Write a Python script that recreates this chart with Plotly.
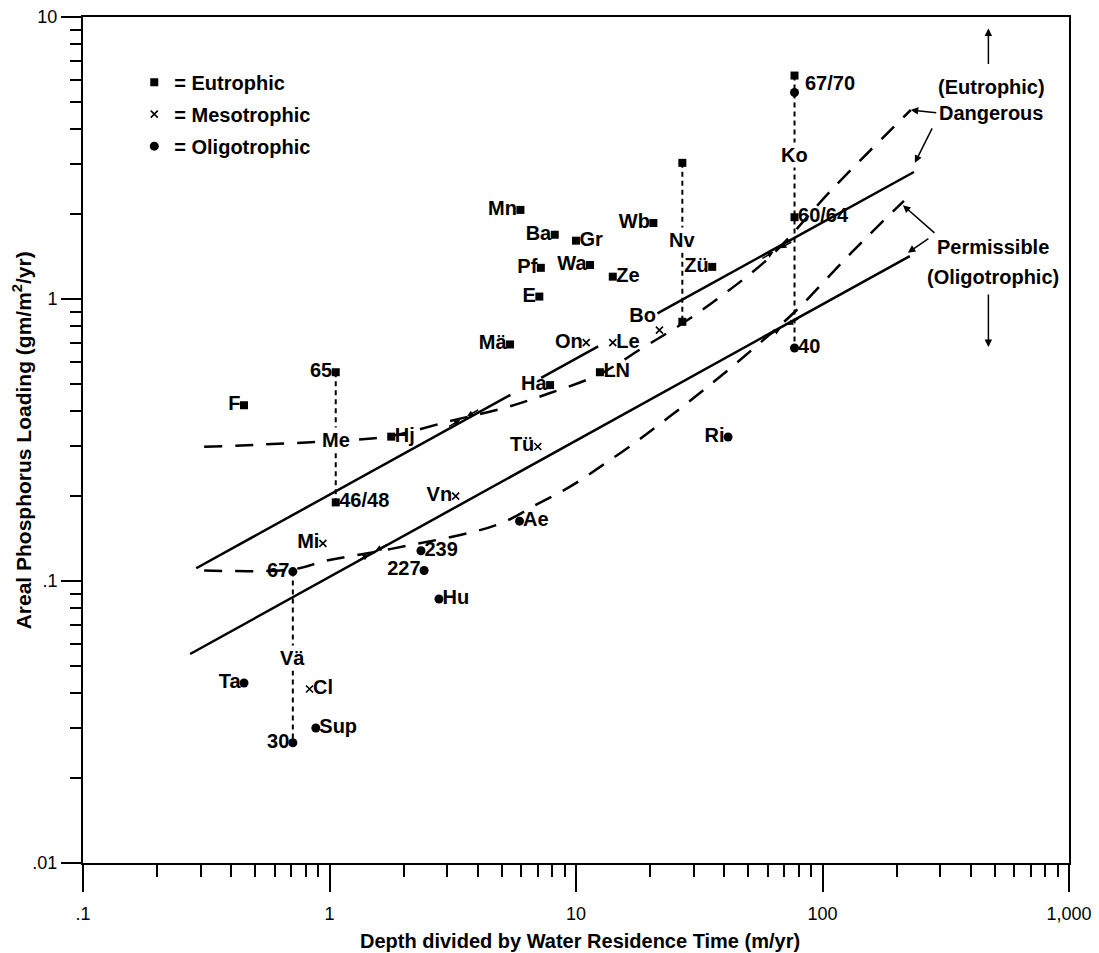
import numpy as np
import plotly.graph_objects as go

# ---------------- data ----------------
# Eutrophic lakes (squares)
eu_label = ["F", "65", "46/48", "Hj", "Mä", "Ha", "Mn", "Ba", "Gr", "Pf",
            "Wa", "Ze", "E", "Wb", "", "", "Zü", "LN", "", "60/64"]
eu_x = [0.45, 1.06, 1.06, 1.78, 5.4, 7.85, 5.95, 8.2, 10.0, 7.2,
        11.4, 14.1, 7.1, 20.6, 27.0, 27.0, 35.7, 12.5, 77.0, 77.0]
eu_y = [0.42, 0.55, 0.19, 0.325, 0.69, 0.495, 2.07, 1.69, 1.61, 1.29,
        1.32, 1.20, 1.02, 1.86, 3.04, 0.83, 1.30, 0.55, 6.2, 1.95]
eu_pos = ["middle left", "middle left", "middle right", "middle right", "middle left",
          "middle left", "middle left", "middle left", "middle right", "middle left",
          "middle left", "middle right", "middle left", "middle left", "middle left",
          "middle left", "middle left", "middle right", "middle right", "middle right"]

# Mesotrophic lakes (crosses)
meso_label = ["Mi", "Vn", "Tü", "On", "Le", "Bo", "Cl"]
meso_x = [0.94, 3.25, 7.0, 11.0, 14.1, 21.8, 0.83]
meso_y = [0.136, 0.20, 0.30, 0.70, 0.70, 0.776, 0.0414]
meso_pos = ["middle left", "middle left", "middle left", "middle left",
            "middle right", "top left", "middle right"]

# Oligotrophic lakes (dots)
oli_label = ["67", "30", "Ta", "Sup", "239", "227", "Hu", "Ae", "Ri", "40", ""]
oli_x = [0.71, 0.71, 0.45, 0.88, 2.35, 2.42, 2.78, 5.9, 41.4, 77.0, 77.0]
oli_y = [0.108, 0.0267, 0.0435, 0.0301, 0.128, 0.109, 0.0863, 0.163, 0.324, 0.67, 5.4]
oli_pos = ["middle left", "middle left", "middle left", "middle right", "middle right",
           "middle left", "middle right", "middle right", "middle left", "middle right",
           "middle right"]

# Lakes followed over several years (vertical dashed connectors)
hist_name = ["Me", "Vä", "Nv", "Ko"]
hist_x = [1.06, 0.71, 27.0, 77.0]
hist_top = [0.55, 0.108, 3.04, 6.2]
hist_bot = [0.19, 0.0267, 0.83, 0.67]
hist_label_y = [0.316, 0.0533, 1.62, 3.24]
ko_year_label = "67/70"
ko_year_label_y = 5.85

# Limit lines
dang_solid_x = [0.288, 5.42, None, 7.22, 12.3, None, 21.4, 235]
dang_solid_y = [0.111, 0.457, None, 0.525, 0.679, None, 0.889, 2.82]
perm_solid_x = [0.272, 226]
perm_solid_y = [0.0551, 1.42]
dang_dash_x = [0.31, 1.05, 1.78, 3.19, 5.08, 7.85, 12.5, 18.6, 26.8, 39.2, 62.3, 109, 228]
dang_dash_y = [0.299, 0.314, 0.327, 0.372, 0.41, 0.464, 0.542, 0.67, 0.815, 1.03, 1.43, 2.44, 4.68]
perm_dash_x = [0.31, 0.71, 0.97, 1.78, 4.76, 7.09, 9.46, 12.7, 17.5, 23.9, 33.4, 51.7, 78.6, 131, 214]
perm_dash_y = [0.109, 0.110, 0.118, 0.130, 0.158, 0.189, 0.216, 0.256, 0.311, 0.382, 0.48, 0.66, 0.914, 1.46, 2.23]

# points where the curved and straight limits cross (marked with small arrows)
cross_x = [3.5, 1.49, 65.3, 69.6]
cross_y = [0.378, 0.126, 1.49, 0.796]

# Right-hand notes
note_text = ["(Eutrophic)", "Dangerous", "Permissible", "(Oligotrophic)"]
note_x = [484, 484, 490, 490]
note_y = [5.65, 4.57, 1.53, 1.20]

x_tickvals = [0.1, 1, 10, 100, 1000]
x_ticktext = [".1", "1", "10", "100", "1,000"]
y_tickvals = [0.01, 0.1, 1, 10]
y_ticktext = [".01", ".1", "1", "10"]
x_minor = [m * 10.0 ** k for k in range(-1, 3) for m in range(2, 10)]
y_minor = [m * 10.0 ** k for k in range(-2, 1) for m in range(2, 10)]

FONT = "Liberation Sans, Arial, sans-serif"
BLACK = "black"
LBL = dict(family=FONT, size=20, color=BLACK, weight="bold")

fig = go.Figure()

# limit lines
fig.add_trace(go.Scatter(x=dang_solid_x, y=dang_solid_y, mode="lines", showlegend=False,
                         line=dict(color=BLACK, width=2.5), hoverinfo="skip"))
fig.add_trace(go.Scatter(x=perm_solid_x, y=perm_solid_y, mode="lines", showlegend=False,
                         line=dict(color=BLACK, width=2.5), hoverinfo="skip"))
fig.add_trace(go.Scatter(x=dang_dash_x, y=dang_dash_y, mode="lines", showlegend=False,
                         line=dict(color=BLACK, width=2.5, dash="18px,13px", shape="spline"),
                         hoverinfo="skip"))
fig.add_trace(go.Scatter(x=perm_dash_x, y=perm_dash_y, mode="lines", showlegend=False,
                         line=dict(color=BLACK, width=2.5, dash="18px,13px", shape="spline"),
                         hoverinfo="skip"))

# vertical connectors
for hx, ht, hb in zip(hist_x, hist_top, hist_bot):
    fig.add_trace(go.Scatter(x=[hx, hx], y=[ht, hb], mode="lines", showlegend=False,
                             line=dict(color=BLACK, width=2, dash="5px,4px"), hoverinfo="skip"))

# markers
fig.add_trace(go.Scatter(x=eu_x, y=eu_y, mode="markers", name="= Eutrophic",
                         legendgroup="eu",
                         marker=dict(symbol="square", size=8, color=BLACK)))
fig.add_trace(go.Scatter(x=meso_x, y=meso_y, mode="markers", name="= Mesotrophic",
                         legendgroup="meso",
                         marker=dict(symbol="x-thin", size=7, color=BLACK,
                                     line=dict(width=1.6, color=BLACK))))
fig.add_trace(go.Scatter(x=oli_x, y=oli_y, mode="markers", name="= Oligotrophic",
                         legendgroup="oli",
                         marker=dict(symbol="circle", size=9, color=BLACK)))

# point labels
fig.add_trace(go.Scatter(
    x=eu_x + meso_x + oli_x, y=eu_y + meso_y + oli_y,
    text=eu_label + meso_label + oli_label,
    textposition=eu_pos + meso_pos + oli_pos,
    mode="markers+text", showlegend=False, hoverinfo="skip",
    marker=dict(size=4, color="rgba(0,0,0,0)"),
    textfont=LBL))

annotations = []
# connector labels (interrupt the lines)
for name, hx, hy in zip(hist_name, hist_x, hist_label_y):
    annotations.append(dict(x=np.log10(hx), y=np.log10(hy), xref="x", yref="y",
                            text=name, showarrow=False, bgcolor="white", borderpad=1,
                            font=LBL))
annotations.append(dict(x=np.log10(hist_x[3]), y=np.log10(ko_year_label_y), xref="x", yref="y",
                        text=ko_year_label, showarrow=False, xanchor="left", xshift=8,
                        font=LBL))

# right-hand notes
for t, nx, ny in zip(note_text, note_x, note_y):
    annotations.append(dict(x=np.log10(nx), y=np.log10(ny), xref="x", yref="y", text=t,
                            showarrow=False, font=LBL))


def arrow(hx, hy, ax, ay, size=1.0, standoff=0):
    return dict(x=np.log10(hx), y=np.log10(hy), xref="x", yref="y", text="",
                showarrow=True, ax=ax, ay=ay, axref="pixel", ayref="pixel",
                arrowhead=2, arrowsize=size, arrowwidth=1.5, arrowcolor=BLACK,
                standoff=standoff)


annotations += [
    arrow(471, 9.1, 0, 37),
    arrow(471, 0.676, 0, -54),
    arrow(dang_dash_x[-1], dang_dash_y[-1], 27, 3),
    arrow(237, 3.04, 18, -36),
    arrow(212, 2.15, 33, 29),
    arrow(222, 1.46, 22, -15),
]
for cx, cy in zip(cross_x, cross_y):
    annotations.append(arrow(cx, cy, -16, 9, size=0.8, standoff=4))
    annotations.append(arrow(cx, cy, 16, -9, size=0.8, standoff=4))

# axis titles
annotations.append(dict(x=0.504, y=-0.092, xref="paper", yref="paper", showarrow=False,
                        xanchor="center", yanchor="middle",
                        text="Depth divided by Water Residence Time (m/yr)",
                        font=dict(family=FONT, size=20, color=BLACK, weight="bold")))
annotations.append(dict(x=-0.0615, y=0.5, xref="paper", yref="paper", showarrow=False,
                        xanchor="center", yanchor="middle",
                        textangle=-90, text="Areal Phosphorus Loading (gm/m<sup>2</sup>/yr)",
                        font=dict(family=FONT, size=21, color=BLACK, weight="bold")))

axis_common = dict(type="log", showgrid=False, zeroline=False, showline=True,
                   linecolor=BLACK, linewidth=2, mirror=True, ticks="outside",
                   tickcolor=BLACK, tickwidth=1.5, automargin=False,
                   ticklabeloverflow="allow",
                   tickfont=dict(family=FONT, size=18, color=BLACK))

# the page adds an 8px body margin, so the figure is drawn 8px smaller
fig.update_layout(
    width=1091, height=945,
    margin=dict(l=75, r=30, t=9, b=90),
    paper_bgcolor="white", plot_bgcolor="white",
    xaxis=dict(range=[-1, 3], tickmode="array", tickvals=x_tickvals, ticktext=x_ticktext,
               ticklen=27, ticklabelstandoff=6,
               minor=dict(tickmode="array", tickvals=x_minor, ticks="outside", ticklen=12,
                          tickwidth=1.5, tickcolor=BLACK, showgrid=False),
               **axis_common),
    yaxis=dict(range=[-2, 1], tickmode="array", tickvals=y_tickvals, ticktext=y_ticktext,
               ticklen=20,
               minor=dict(tickmode="array", tickvals=y_minor, ticks="outside", ticklen=11,
                          tickwidth=1.5, tickcolor=BLACK, showgrid=False),
               **axis_common),
    legend=dict(x=0.052, y=0.946, xanchor="left", yanchor="top", bgcolor="rgba(0,0,0,0)",
                tracegroupgap=3,
                font=dict(family=FONT, size=20, color=BLACK, weight="bold")),
    annotations=annotations,
    showlegend=True,
)

fig.write_html("out.html")
